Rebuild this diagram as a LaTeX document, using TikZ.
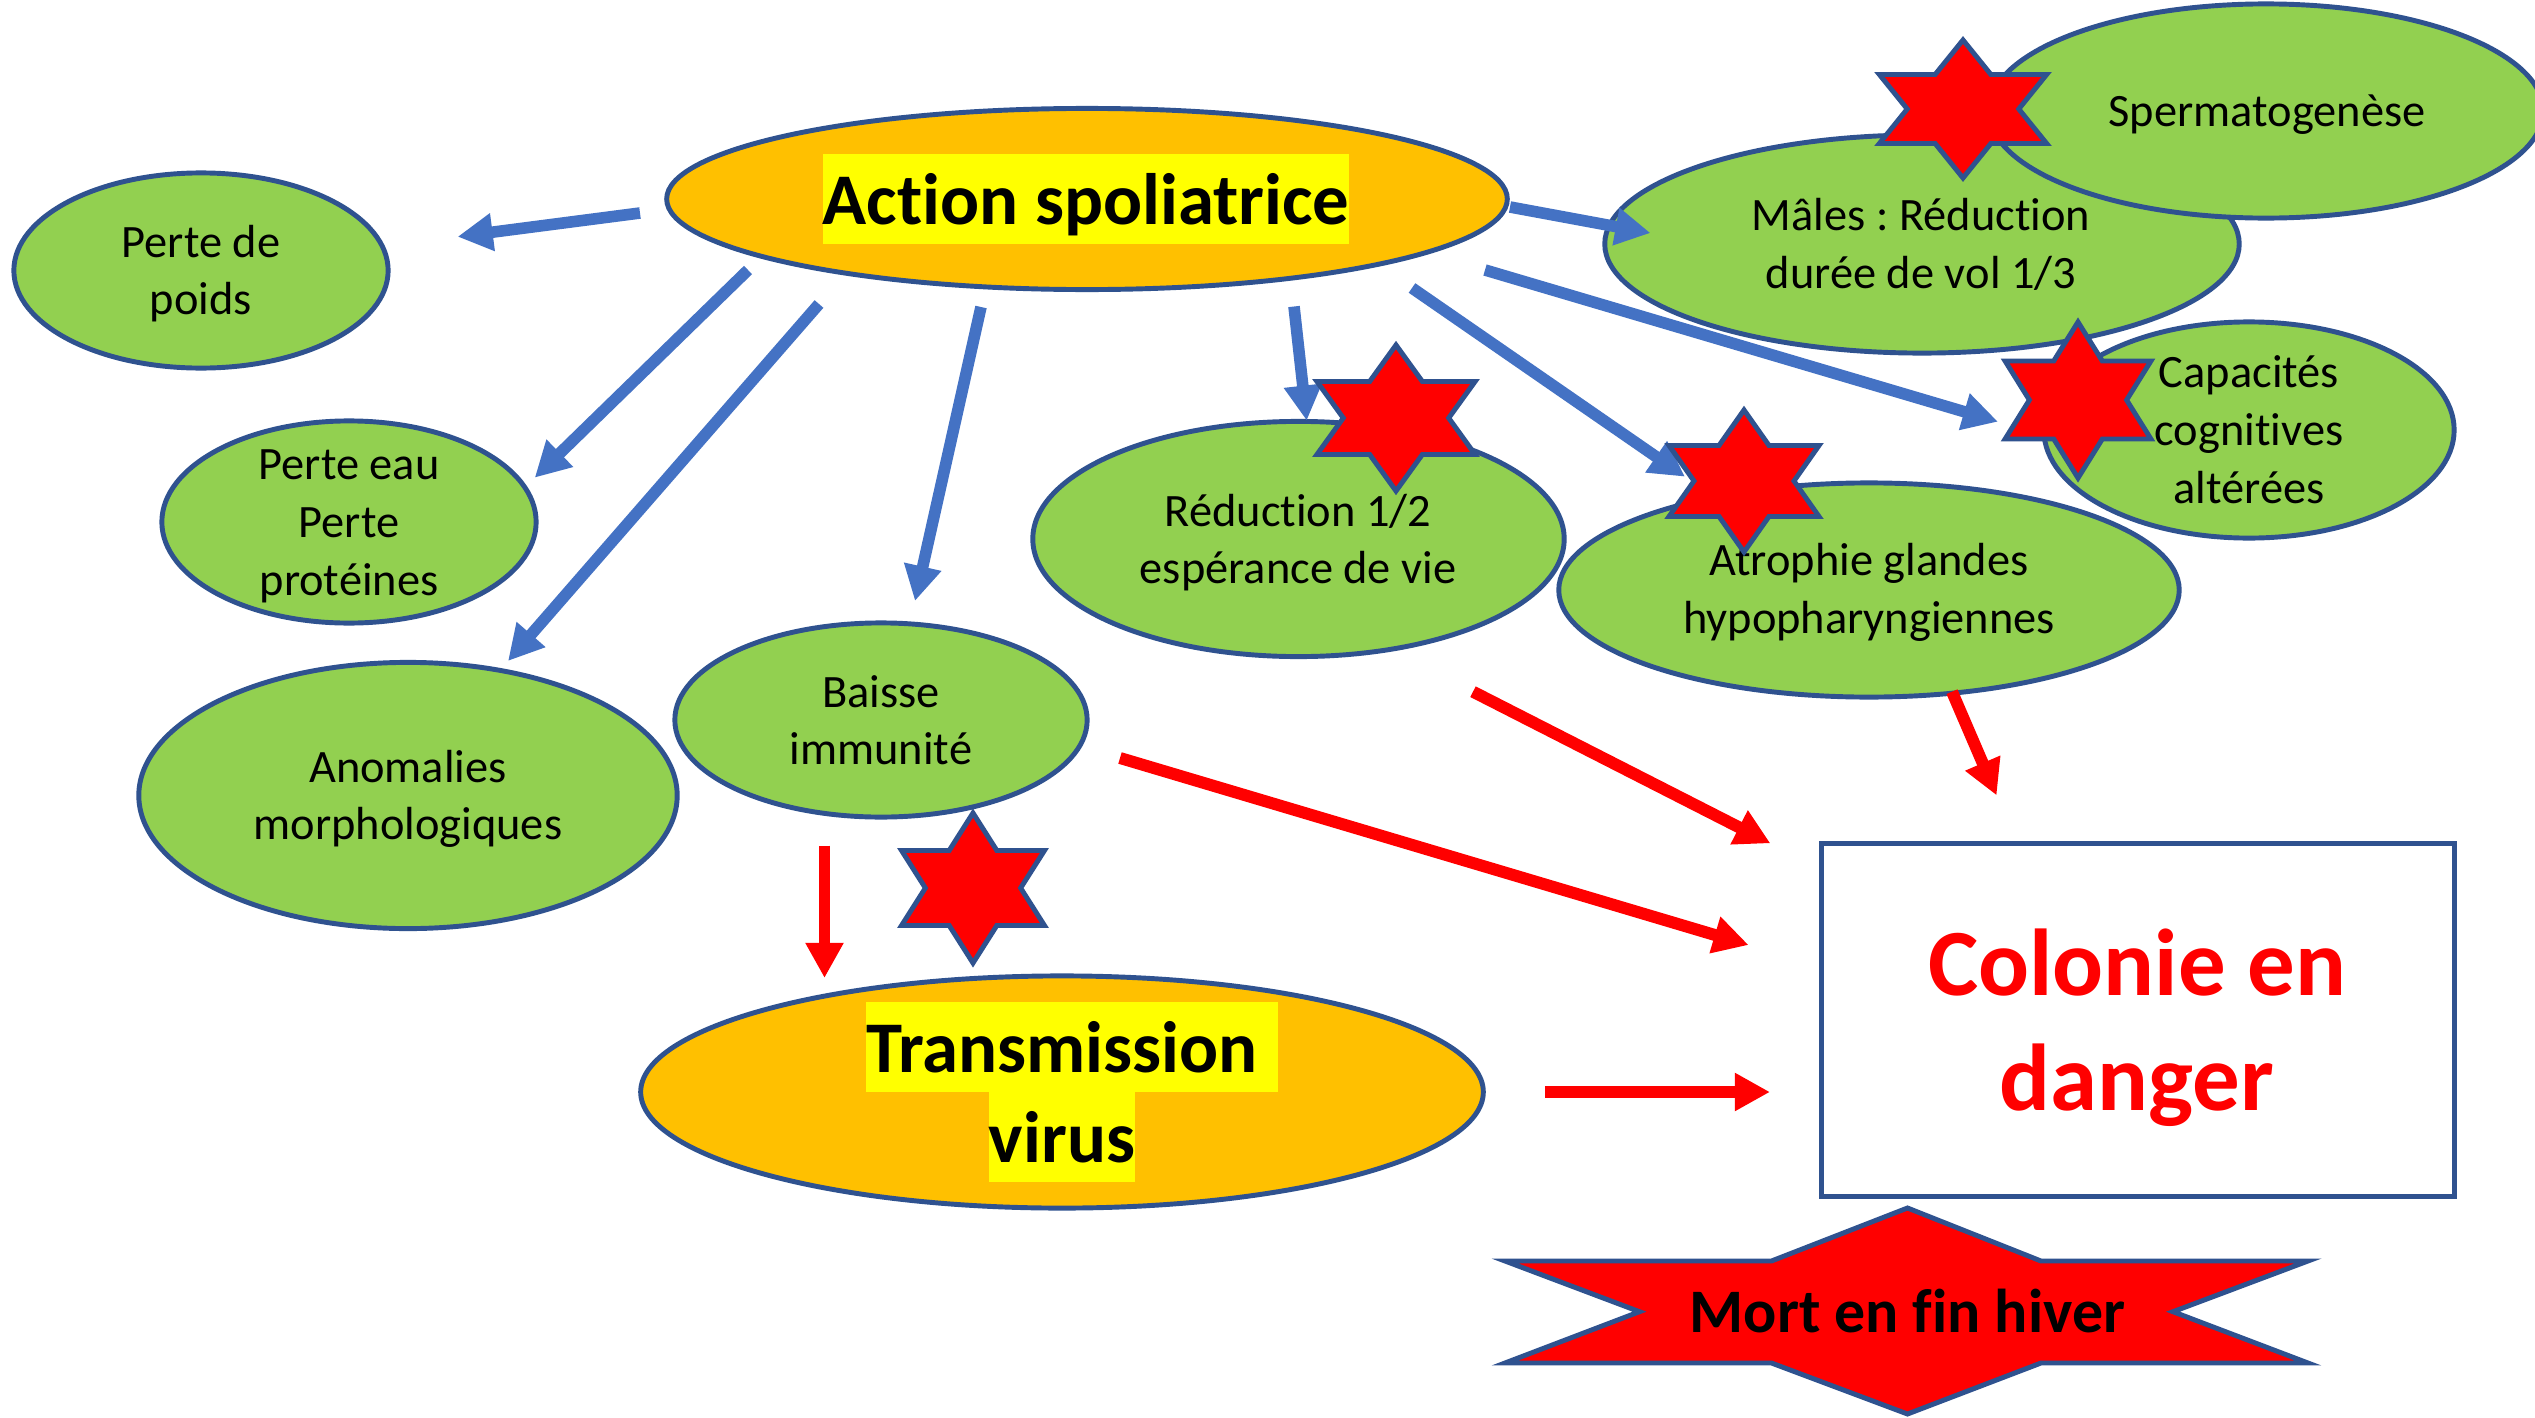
\documentclass[tikz,border=0pt]{standalone}
\usepackage{fontspec}
\setmainfont[Ligatures={NoCommon,NoContextual}, Contextuals=NoAlternate]{Carlito}
\usetikzlibrary{shapes.geometric, arrows.meta}
\frenchspacing

\definecolor{leaf}{HTML}{92D050}
\definecolor{outl}{HTML}{2F528F}
\definecolor{amber}{HTML}{FFC000}
\definecolor{hlyellow}{HTML}{FFFF00}
\definecolor{arrowblue}{HTML}{4472C4}
\definecolor{alarm}{HTML}{FF0000}

% highlighted line of text (yellow marker band)
\newcommand\hlline[1]{{\setlength\fboxsep{0pt}\colorbox{hlyellow}{\rule[-0.27em]{0pt}{1.24em}#1}}}
% highlighted trailing space that does not move the centring
\newcommand\hltail{\rlap{\setlength\fboxsep{0pt}\colorbox{hlyellow}{\rule[-0.27em]{0pt}{1.24em}\hspace{0.27em}}}}
% keep line pitch fixed even when lines touch
\newcommand\fixedpitch{\lineskiplimit=-20pt\relax}

\tikzset{
  radii/.style 2 args={minimum width={0.02cm*#1}, minimum height={0.02cm*#2}},
  blob/.style={ellipse, draw=outl, line width=1.4pt, fill=leaf, inner sep=0pt},
  hub/.style={blob, fill=amber},
  lbl/.style={align=center, inner sep=0pt,
    font={\fontsize{13.2pt}{16.4pt}\selectfont\fixedpitch}},
  biglbl/.style={align=center, inner sep=0pt,
    font={\fontsize{20.7pt}{25.7pt}\selectfont\bfseries\fixedpitch}},
  dangerlbl/.style={align=center, inner sep=0pt, text=alarm,
    font={\fontsize{27pt}{32.9pt}\selectfont\bfseries\fixedpitch}},
  mortlbl/.style={inner sep=0pt, font={\fontsize{17.6pt}{21pt}\selectfont\bfseries}},
  flow/.style={draw=arrowblue, line width=3.3pt, -{Triangle[length=10pt,width=10.2pt]}},
  harm/.style={draw=alarm, line width=3.4pt, -{Triangle[length=10pt,width=10.2pt]}},
  warnshape/.style={draw=outl, line width=1.4pt, fill=alarm, line join=miter},
  pics/hexstar/.style={code={
    \draw[warnshape]
      (90:1) -- (60:0.57735) -- (30:1) -- (0:0.57735) -- (-30:1) -- (-60:0.57735)
      -- (-90:1) -- (-120:0.57735) -- (-150:1) -- (180:0.57735) -- (150:1)
      -- (120:0.57735) -- cycle;
  }}
}

\begin{document}
\begin{tikzpicture}[x=0.01cm, y=-0.01cm]
\useasboundingbox[fill=white] (0,0) rectangle (2535,1418);

% ---- effect ellipses
\node[blob, radii={187}{97.5}]   (poids)  at (201,270.5) {};
\node[blob, radii={187}{101}]    (eau)    at (349,522) {};
\node[blob, radii={269}{133}]    (anom)   at (408,795.5) {};
\node[blob, radii={206}{97}]     (baisse) at (881,720) {};
\node[blob, radii={265.5}{117.5}] (reduc) at (1298.5,539) {};
\node[blob, radii={310}{107}]    (atro)   at (1869,590) {};
\node[blob, radii={317}{109}]    (males)  at (1922,244) {};
\node[blob, radii={277}{107}]    (sperm)  at (2266,111) {};
\node[blob, radii={205}{108}]    (capa)   at (2249,430) {};

% ---- central causes
\node[hub, radii={420}{90.5}] (action) at (1087,199) {};
\node[hub, radii={421}{116}]  (trans)  at (1062,1092) {};

% ---- outcome box
\node[draw=outl, line width=1.4pt, fill=white, inner sep=0pt,
      minimum width=6.32cm, minimum height=3.52cm] (colonie) at (2138,1020) {};

% ---- labels
\node[lbl] (poids-t)  at (201,274.5)  {\strut Perte de\\\strut poids};
\node[lbl] (eau-t)    at (349,526)    {\strut Perte eau\\\strut Perte\\\strut protéines};
\node[lbl] (anom-t)   at (408,799.5)  {\strut Anomalies\\\strut morphologiques};
\node[lbl] (baisse-t) at (881,724.5)  {\strut Baisse\\\strut immunité};
\node[lbl] (reduc-t)  at (1298,543.5) {\strut Réduction 1/2\\\strut espérance de vie};
\node[lbl] (atro-t)   at (1869,593)   {\strut Atrophie glandes\\\strut hypopharyngiennes};
\node[lbl] (males-t)  at (1921,248)   {\strut Mâles : Réduction\\\strut durée de vol 1/3};
\node[lbl] (sperm-t)  at (2267,115)   {\strut Spermatogenèse};
\node[lbl] (capa-t)   at (2249,434)   {\strut Capacités\\\strut cognitives\\\strut altérées};

\node[biglbl] (action-t) at (1086,199) {\hlline{Action spoliatrice}};
\node[biglbl] (trans-t)  at (1062,1092) {\hlline{Transmission\hltail}\\\hlline{virus}};
\node[dangerlbl] (colonie-t) at (2137,1030) {\strut Colonie en\\\strut danger};

% ---- arrow end points
\coordinate (a1s) at (640,213);    \coordinate (a1e) at (457.6,236.7);
\coordinate (a2s) at (748,270);    \coordinate (a2e) at (534.7,477.7);
\coordinate (a3s) at (819,304);    \coordinate (a3e) at (508,661);
\coordinate (a4s) at (981,307);    \coordinate (a4e) at (915,601);
\coordinate (a5s) at (1294,306.5); \coordinate (a5e) at (1306.7,420.7);
\coordinate (a6s) at (1412,288);   \coordinate (a6e) at (1685,476.7);
\coordinate (a7s) at (1485,270);   \coordinate (a7e) at (1998,421.7);
\coordinate (a8s) at (1510,207);   \coordinate (a8e) at (1650.5,233);

\coordinate (r1s) at (1952,691.7); \coordinate (r1e) at (1996.6,795.4);
\coordinate (r2s) at (1473,691.7); \coordinate (r2e) at (1770.4,843.3);
\coordinate (r3s) at (1120,758);   \coordinate (r3e) at (1748.6,945);
\coordinate (r4s) at (824.5,845.5); \coordinate (r4e) at (824.5,978);
\coordinate (r5s) at (1545,1092);  \coordinate (r5e) at (1770,1092);

% ---- blue arrows from the spoliative action
\draw[flow] (a1s) -- (a1e);
\draw[flow] (a2s) -- (a2e);
\draw[flow] (a3s) -- (a3e);
\draw[flow] (a4s) -- (a4e);
\draw[flow] (a5s) -- (a5e);
\draw[flow] (a6s) -- (a6e);
\draw[flow] (a7s) -- (a7e);
\draw[flow] (a8s) -- (a8e);

% ---- red arrows towards the colony
\draw[harm] (r1s) -- (r1e);
\draw[harm] (r2s) -- (r2e);
\draw[harm] (r3s) -- (r3e);
\draw[harm] (r4s) -- (r4e);
\draw[harm] (r5s) -- (r5e);

% ---- warning stars
\pic[xscale=96.6, yscale=69] at (1963,109) {hexstar};
\pic[xscale=84.2, yscale=78] at (2078,400) {hexstar};
\pic[xscale=86.6, yscale=71] at (1744,481) {hexstar};
\pic[xscale=91.3, yscale=73] at (1396,418) {hexstar};
\pic[xscale=82.5, yscale=75] at (973,888) {hexstar};

% ---- winter death banner
\draw[warnshape] (1907.5,1208) -- (2041,1261) -- (2308,1261) -- (2173,1311.7)
  -- (2308,1363) -- (2041,1363) -- (1907.5,1414) -- (1771.5,1363)
  -- (1505,1363) -- (1639.5,1311.7) -- (1505,1261) -- (1771.5,1261) -- cycle;
\node[mortlbl] (mort) at (1907.5,1318) {\strut Mort en fin hiver};
\end{tikzpicture}
\end{document}
